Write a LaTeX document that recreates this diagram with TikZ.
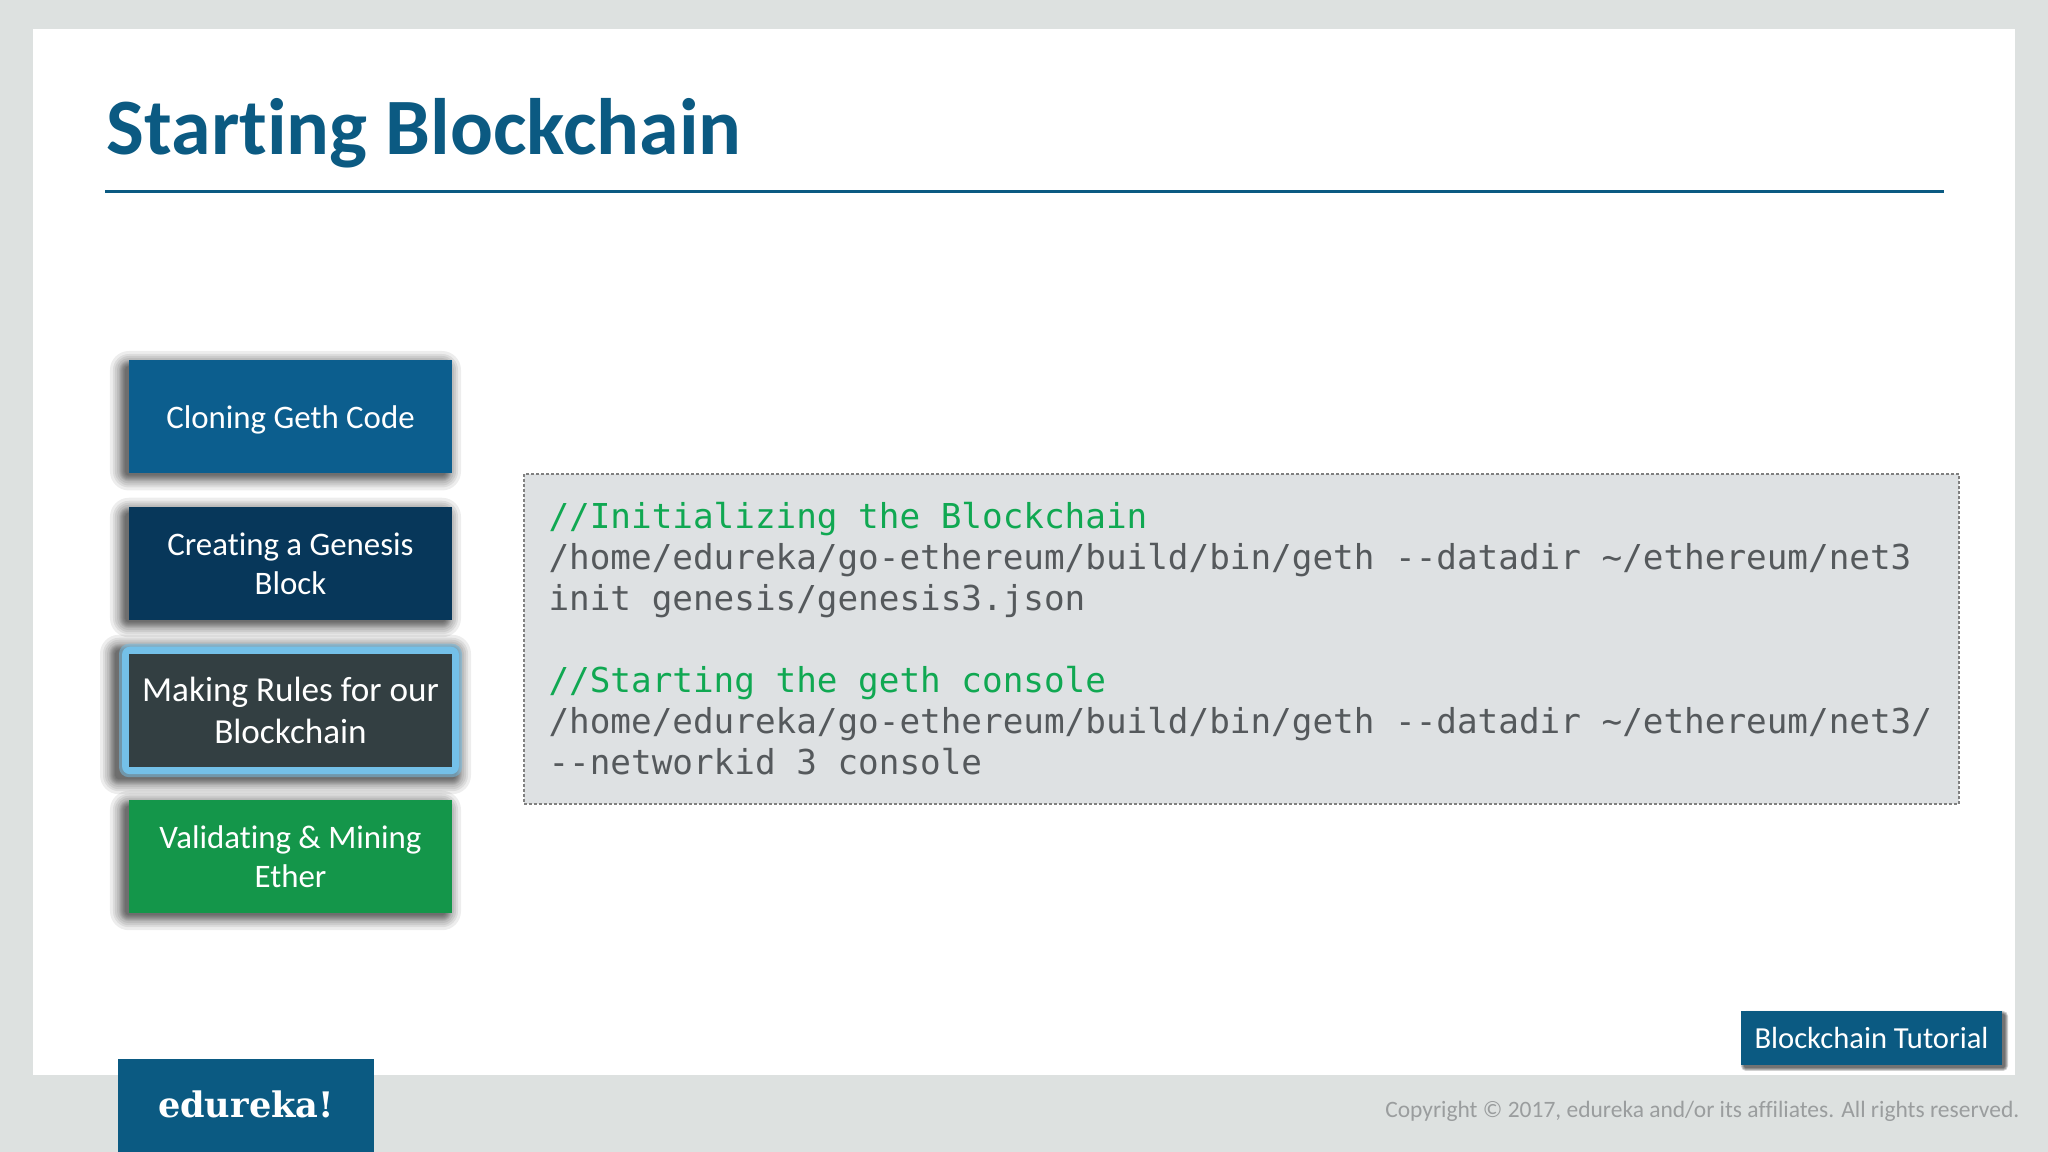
\documentclass[tikz,border=0pt]{standalone}
\usepackage{fontspec}
\setmainfont{Carlito}[Ligatures={NoCommon}]
\newfontfamily\codefont{DejaVu Sans Mono}
\newfontfamily\logofont{DejaVu Serif}
\definecolor{pagegray}{HTML}{DDE1E0}
\definecolor{codegray}{HTML}{DEE1E3}
\definecolor{titleblue}{HTML}{0B5A82}
\definecolor{cloneblue}{HTML}{0C5E8E}
\definecolor{genesisnavy}{HTML}{07375A}
\definecolor{rulesslate}{HTML}{333F42}
\definecolor{minegreen}{HTML}{14964A}
\definecolor{glowblue}{HTML}{74C0E8}
\definecolor{commentgreen}{HTML}{10A852}
\definecolor{shelltext}{HTML}{55595C}
\definecolor{copytext}{HTML}{9A9D9E}
\tikzset{
  stepbox/.style={minimum width=3.23cm, minimum height=1.135cm, inner sep=0pt, text=white, align=flush center,
    font=\fontsize{9.35}{11.1}\selectfont},
  shelltxt/.style={text=shelltext}
}
% centre x, centre y, half width, half height
\newcommand{\softshadow}[4]{
  \foreach \r in {0.19,0.16,0.14,0.12,0.10,0.09,0.08,0.07,0.06,0.05,0.04}
    \fill [black, opacity=0.07, rounded corners=\r cm] ({#1-#3-\r},{#2-#4+0.02-\r}) rectangle ({#1+#3-0.10+\r},{#2+#4-0.10+\r});
}
\begin{document}
\begin{tikzpicture}
    \useasboundingbox (0,0) rectangle (20.48,11.52);
    \fill [pagegray] (0,0) rectangle (20.48,11.52);
    \fill [white] (0.33,0.77) rectangle (20.15,11.23);
    \node [anchor=west, inner sep=0pt, text=titleblue, font=\fontsize{22.75}{26}\selectfont\bfseries] (title) at (1.06,10.19) {Starting Blockchain};
    \draw [titleblue, line width=0.03cm] (1.05,9.6) -- (19.44,9.6);
    % steps on the left
    \softshadow{2.905}{7.3525}{1.615}{0.5675}
    \node [stepbox, fill=cloneblue, text depth=0pt] (cloning) at (2.905,7.3525) {Cloning Geth Code};
    \softshadow{2.905}{5.885}{1.615}{0.5675}
    \node [stepbox, fill=genesisnavy] (genesis) at (2.905,5.885) {Creating a Genesis\\Block};
    \softshadow{2.905}{4.415}{1.715}{0.6675}
    \fill [glowblue, opacity=0.5, rounded corners=0.1cm] (1.19,3.7475) rectangle (4.62,5.0825);
    \node [stepbox, minimum width=3.37cm, minimum height=1.275cm, fill=glowblue, rounded corners=0.08cm] (glow) at (2.905,4.415) {};
    \node [stepbox, fill=rulesslate, font=\fontsize{10}{12.2}\selectfont] (rules) at (2.905,4.415) {Making Rules for our\\Blockchain};
    \softshadow{2.905}{2.955}{1.615}{0.5675}
    \node [stepbox, fill=minegreen] (mining) at (2.905,2.955) {Validating \& Mining\\Ether};
    % code panel
    \node [draw=gray, dash pattern=on 0.03cm off 0.02cm, line width=0.012cm, fill=codegray, minimum width=14.35cm, minimum height=3.3cm, text width=13.86cm, inner sep=0pt, align=flush left, shelltxt, font=\codefont\fontsize{9.76}{11.67}\selectfont] (code) at (12.415,5.13) {%
      \textcolor{commentgreen}{//Initializing the Blockchain}\\
      /home/edureka/go-ethereum/build/bin/geth --datadir {\char"7E}/ethereum/net3\\
      init genesis/genesis3.json\\[11.67pt]
      \textcolor{commentgreen}{//Starting the geth console}\\
      /home/edureka/go-ethereum/build/bin/geth --datadir {\char"7E}/ethereum/net3/\\
      --networkid 3 console};
    % footer
    \node [fill=titleblue, minimum width=2.56cm, minimum height=0.93cm, inner sep=0pt] (logo) at (2.46,0.465) {};
    \node [text=white, inner sep=0pt, font=\logofont\fontsize{10}{12}\selectfont\bfseries] (logotext) at (2.46,0.48) {edureka!};
    \foreach \r in {0.05,0.04,0.03,0.02}
      \fill [black, opacity=0.18, rounded corners=\r cm] ({17.41+0.05-\r},{0.87-0.01-\r}) rectangle ({20.02+0.01+\r},{1.41-0.05+\r});
    \node [fill=titleblue, minimum width=2.61cm, minimum height=0.54cm, inner sep=0pt, text=white, font=\fontsize{8.7}{10}\selectfont] (tag) at (18.715,1.14) {Blockchain Tutorial};
    \node [anchor=east, inner sep=0pt, text=copytext, font=\fontsize{6.68}{8}\selectfont] (copyright) at (20.2,0.41) {Copyright © 2017, edureka and/or its affiliates. All rights reserved.};
  \end{tikzpicture}
\end{document}
